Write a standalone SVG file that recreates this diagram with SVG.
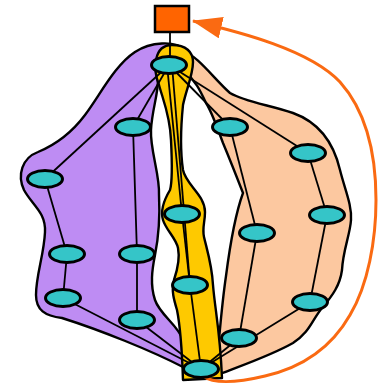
<svg xmlns="http://www.w3.org/2000/svg" width="387" height="387" viewBox="0 0 387 387">
<style>
.hull{stroke:#000;stroke-width:2.4;stroke-linejoin:round}
.edge{stroke:#000;stroke-width:1.8;fill:none}
.node ellipse{fill:#35c5c8;stroke:#000;stroke-width:3}
</style>
<defs>
<marker id="ah" viewBox="0 0 30 22" refX="29" refY="11" markerWidth="30" markerHeight="22" markerUnits="userSpaceOnUse" orient="auto">
<path d="M0,0 L30,11 L0,22 z" fill="#fa6a12"/>
</marker>
</defs>
<rect width="387" height="387" fill="#fff"/>
<g id="hulls">
<path id="hull-purple" class="hull" fill="#be8cf3" d="M185,50 C175,40 150,42 135,52 C115,65 100,95 85,115 C70,135 55,145 38,152 C22,158 17,175 24,190 C32,205 46,212 45,232 C44,255 36,275 36,295 C36,310 45,316 62,318 C100,330 150,350 185,368 L183,340 C178,325 160,315 155,300 C150,285 152,270 155,255 C158,240 160,215 159,195 C160,175 150,150 151,130 C152,110 158,95 158,80 C158,65 175,55 185,50 Z"/>
<path id="hull-peach" class="hull" fill="#fcc8a0" d="M182,50 C198,56 215,80 230,93 C245,102 270,105 293,113 C318,122 333,140 340,170 C345,190 352,205 351,220 C350,235 343,250 342,270 C340,285 333,295 322,308 C312,320 310,332 293,343 C270,356 240,366 220,374 L218,350 C220,330 222,303 226,276 C230,245 235,215 243,193 C236,175 228,155 223,143 C218,130 212,112 206,103 C200,90 195,80 185,72 Z"/>
<path id="hull-yellow" class="hull" fill="#fec900" d="M172,45 C186,45 193,52 193,62 C193,75 186,90 183,105 C181,125 180,150 183,170 C186,185 205,195 205,212 C205,222 202,228 204,237 C207,250 212,265 213,285 C215,310 220,330 222,378 L183,380 C182,350 180,325 177,310 C174,300 171,290 174,280 C178,268 180,258 178,248 C176,238 166,230 163,220 C160,210 164,200 170,190 C173,180 172,160 171,140 C170,115 163,100 159,85 C153,70 153,45 172,45 Z"/>
</g>
<g id="connectors">
<line class="edge" x1="170" y1="32" x2="170" y2="58"/>
<line class="edge" x1="169" y1="65" x2="133" y2="127"/>
<line class="edge" x1="169" y1="65" x2="45" y2="179"/>
<line class="edge" x1="133" y1="127" x2="137" y2="254"/>
<line class="edge" x1="45" y1="179" x2="67" y2="254"/>
<line class="edge" x1="67" y1="254" x2="63" y2="298"/>
<line class="edge" x1="137" y1="254" x2="137" y2="320"/>
<line class="edge" x1="63" y1="298" x2="201" y2="369"/>
<line class="edge" x1="137" y1="320" x2="201" y2="369"/>
<line class="edge" x1="167" y1="65" x2="182" y2="214"/>
<line class="edge" x1="172" y1="65" x2="190" y2="285"/>
<line class="edge" x1="182" y1="214" x2="190" y2="285"/>
<line class="edge" x1="190" y1="285" x2="201" y2="369"/>
<line class="edge" x1="169" y1="65" x2="230" y2="127"/>
<line class="edge" x1="169" y1="65" x2="308" y2="153"/>
<line class="edge" x1="230" y1="127" x2="257" y2="233"/>
<line class="edge" x1="308" y1="153" x2="327" y2="215"/>
<line class="edge" x1="327" y1="215" x2="310" y2="302"/>
<line class="edge" x1="257" y1="233" x2="239" y2="338"/>
<line class="edge" x1="310" y1="302" x2="201" y2="369"/>
<line class="edge" x1="239" y1="338" x2="201" y2="369"/>
<path id="feedback" d="M203,376 C215,385 240,382 265,376 C300,368 330,350 350,315 C368,285 376,240 376,200 C376,150 365,110 340,82 C310,50 240,32 193,21" fill="none" stroke="#fa6a12" stroke-width="3" marker-end="url(#ah)"/>
</g>
<g id="n-top-box"><rect x="155" y="6" width="34" height="26" fill="#ff6400" stroke="#000" stroke-width="2.5"/></g>
<g id="n-top" class="node"><ellipse cx="169" cy="65" rx="17.5" ry="8.5"/></g>
<g id="n-l1" class="node"><ellipse cx="133" cy="127" rx="17.5" ry="8.5"/></g>
<g id="n-l2" class="node"><ellipse cx="45" cy="179" rx="17.5" ry="8.5"/></g>
<g id="n-l3" class="node"><ellipse cx="67" cy="254" rx="17.5" ry="8.5"/></g>
<g id="n-l4" class="node"><ellipse cx="137" cy="254" rx="17.5" ry="8.5"/></g>
<g id="n-l5" class="node"><ellipse cx="63" cy="298" rx="17.5" ry="8.5"/></g>
<g id="n-l6" class="node"><ellipse cx="137" cy="320" rx="17.5" ry="8.5"/></g>
<g id="n-y1" class="node"><ellipse cx="182" cy="214" rx="17.5" ry="8.5"/></g>
<g id="n-y2" class="node"><ellipse cx="190" cy="285" rx="17.5" ry="8.5"/></g>
<g id="n-r1" class="node"><ellipse cx="230" cy="127" rx="17.5" ry="8.5"/></g>
<g id="n-r2" class="node"><ellipse cx="308" cy="153" rx="17.5" ry="8.5"/></g>
<g id="n-r3" class="node"><ellipse cx="257" cy="233" rx="17.5" ry="8.5"/></g>
<g id="n-r4" class="node"><ellipse cx="327" cy="215" rx="17.5" ry="8.5"/></g>
<g id="n-r5" class="node"><ellipse cx="310" cy="302" rx="17.5" ry="8.5"/></g>
<g id="n-r6" class="node"><ellipse cx="239" cy="338" rx="17.5" ry="8.5"/></g>
<g id="n-bottom" class="node"><ellipse cx="201" cy="369" rx="17.5" ry="8.5"/></g>
</svg>
